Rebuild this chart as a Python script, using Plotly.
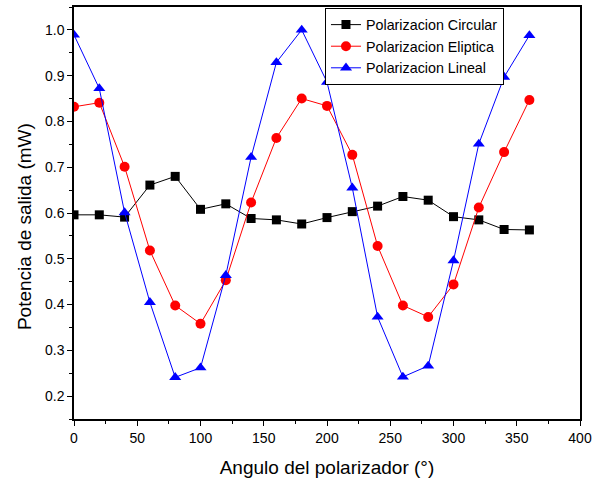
import plotly.graph_objects as go

angles = [0, 20, 40, 60, 80, 100, 120, 140, 160, 180, 200, 220, 240, 260, 280, 300, 320, 340, 360]
circular = [0.596, 0.596, 0.591, 0.661, 0.680, 0.608, 0.620, 0.588, 0.585, 0.576,
            0.590, 0.603, 0.615, 0.636, 0.628, 0.592, 0.585, 0.564, 0.563]
eliptica = [0.832, 0.841, 0.701, 0.518, 0.398, 0.358, 0.453, 0.623, 0.764, 0.850,
            0.834, 0.727, 0.528, 0.398, 0.373, 0.444, 0.612, 0.733, 0.847]
lineal = [0.989, 0.872, 0.601, 0.405, 0.241, 0.262, 0.464, 0.722, 0.929, 1.000,
          0.886, 0.655, 0.373, 0.242, 0.266, 0.496, 0.751, 0.897, 0.988]

names = ["Polarizacion Circular", "Polarizacion Eliptica", "Polarizacion Lineal"]
x_title = "Angulo del polarizador (°)"
y_title = "Potencia de salida (mW)"

FONT = "Liberation Sans, Arial"

fig = go.Figure()
fig.add_trace(go.Scatter(x=angles, y=circular, name=names[0], mode="lines+markers",
                         line=dict(color="black", width=1),
                         marker=dict(symbol="square", size=9, color="black")))
fig.add_trace(go.Scatter(x=angles, y=eliptica, name=names[1], mode="lines+markers",
                         line=dict(color="#ff0000", width=1),
                         marker=dict(symbol="circle", size=10, color="#ff0000")))
fig.add_trace(go.Scatter(x=angles, y=lineal, name=names[2], mode="lines+markers",
                         line=dict(color="#0000ff", width=1),
                         marker=dict(symbol="triangle-up", size=10.5, color="#0000ff")))

axis_common = dict(showgrid=False, zeroline=False, showline=True, linecolor="black",
                   linewidth=1.5, mirror=True, ticks="outside", ticklen=5, tickwidth=1.2,
                   tickcolor="black", automargin=False,
                   tickfont=dict(family=FONT, size=14, color="black"))

fig.update_xaxes(range=[0, 400], dtick=50, tick0=0,
                 minor=dict(ticks="outside", dtick=25, ticklen=3, tickcolor="black"),
                 title=dict(text=x_title, font=dict(family=FONT, size=19, color="black"),
                            standoff=16),
                 **axis_common)
fig.update_yaxes(range=[0.15, 1.05], dtick=0.1, tick0=0.2, tickformat=".1f",
                 minor=dict(ticks="outside", dtick=0.05, ticklen=3, tickcolor="black"),
                 **axis_common)

fig.add_annotation(text=y_title, textangle=-90, xref="paper", yref="paper",
                   x=-0.099, y=0.468, xanchor="center", yanchor="middle", showarrow=False,
                   font=dict(family=FONT, size=19, color="black"))

fig.update_layout(
    width=593, height=482,
    margin=dict(l=74, r=13, t=7, b=63),
    paper_bgcolor="white", plot_bgcolor="white",
    legend=dict(x=0.496, y=0.998, xanchor="left", yanchor="top",
                bgcolor="white", bordercolor="black", borderwidth=1,
                font=dict(family=FONT, size=14.3, color="black"),
                tracegroupgap=0, itemsizing="trace"),
)

fig.write_html("out.html", config={"displayModeBar": False},
               post_script="document.body.style.margin='0';")
